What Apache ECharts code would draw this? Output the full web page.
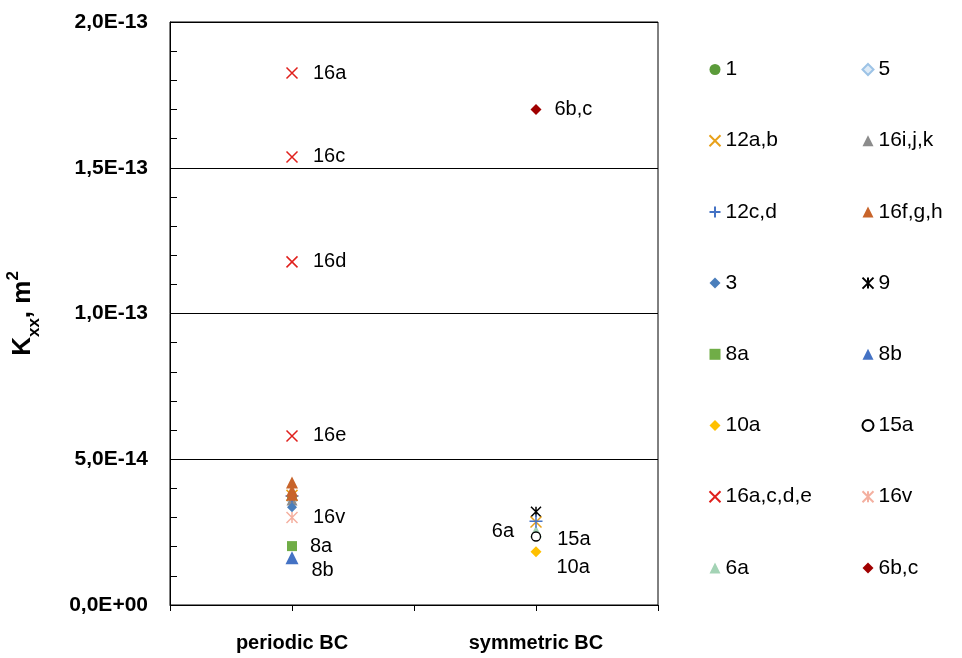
<!DOCTYPE html>
<html><head><meta charset="utf-8">
<script src="https://cdn.jsdelivr.net/npm/echarts@6/dist/echarts.min.js"></script>
<style>html,body{margin:0;padding:0;background:#fff}#c{width:962px;height:658px}</style>
</head><body><div id="c"></div><script>
// ---- data ----
const categories = ['periodic BC', 'symmetric BC'];   // category index 0, 1
const yTicks = [0, 5e-14, 1e-13, 1.5e-13, 2e-13];
// [categoryIndex, value]
const d1      = [[0, 0.365e-13]];
const d5      = [[0, 0.360e-13]];
const d12ab   = [[0, 0.376e-13], [1, 0.285e-13]];
const d16ijk  = [[0, 0.360e-13]];
const d12cd   = [[0, 0.374e-13], [1, 0.287e-13]];
const d16fgh  = [[0, 0.420e-13], [0, 0.392e-13], [0, 0.378e-13]];
const d3      = [[0, 0.335e-13]];
const d9      = [[1, 0.320e-13]];
const d8a     = [[0, 0.202e-13]];
const d8b     = [[0, 0.162e-13]];
const d10a    = [[1, 0.183e-13]];
const d15a    = [[1, 0.235e-13]];
const d16acde = [[0, 1.825e-13], [0, 1.537e-13], [0, 1.177e-13], [0, 0.580e-13]];
const d16v    = [[0, 0.300e-13]];
const d6a     = [[1, 0.252e-13]];
const d6bc    = [[1, 1.700e-13]];
// point label texts
const lab16acde = ['16a', '16c', '16d', '16e'];
const lab16v = ['16v'], lab8a = ['8a'], lab8b = ['8b'], lab6a = ['6a'], lab15a = ['15a'], lab10a = ['10a'], lab6bc = ['6b,c'];

// ---- rendering ----
const FONT = '"Liberation Sans", Arial, sans-serif';
const X = 'path://M0,0L10,10M10,0L0,10';
const PLUS = 'path://M5,0L5,10M0,5L10,5';
const STAR = 'path://M0,0L10,10M10,0L0,10M5,0L5,10';
const toXY = arr => arr.map(p => [1 + 2 * p[0], p[1]]);
const labelStyle = {color: '#000', fontSize: 20, fontFamily: FONT};

function ser(name, data, symbol, size, style, labels, labelOpt) {
  return {
    name, type: 'scatter', symbol, symbolSize: size,
    itemStyle: Object.assign({opacity: 1}, style),
    data: toXY(data).map((v, i) => {
      const o = {value: v};
      if (labels) o.label = Object.assign({show: true, formatter: labels[i]}, labelStyle, labelOpt || {position: 'right', distance: 13});
      return o;
    }),
    emphasis: {disabled: true}, z: 3
  };
}
const fill = c => ({color: c});
const stroke = (c, w) => ({color: 'none', borderColor: c, borderWidth: w || 1.5});

const series = [
  ser('1', d1, 'circle', 10, fill('#5b9b3a')),
  ser('5', d5, 'diamond', 11, {color: '#deebf7', borderColor: '#9dc3e6', borderWidth: 1}),
  ser('16i,j,k', d16ijk, 'triangle', 11, fill('#8c8c8c')),
  ser('3', d3, 'diamond', 10, fill('#4a7ebb')),
  ser('16v', d16v, STAR, 11, stroke('#f4b0a0'), lab16v),
  ser('8a', d8a, 'rect', 10, fill('#70ad47'), lab8a),
  ser('8b', d8b, 'triangle', 13, fill('#4472c4'), lab8b, {position: 'right', distance: 13, offset: [0, 13]}),
  ser('10a', d10a, 'diamond', 11, fill('#ffc000'), lab10a, {position: 'right', distance: 15, offset: [0, 16]}),
  ser('6a', d6a, 'triangle', 12, fill('#a3d3b5'), lab6a, {position: 'left', distance: 16, offset: [0, 0]}),
  ser('15a', d15a, 'circle', 9, {color: '#fff', borderColor: '#000', borderWidth: 1.3}, lab15a, {position: 'right', distance: 16, offset: [0, 3]}),
  ser('9', d9, STAR, 10, stroke('#000')),
  ser('12a,b', d12ab, X, 11, stroke('#e8a11a')),
  ser('12c,d', d12cd, PLUS, 13, stroke('#4472c4')),
  ser('16f,g,h', d16fgh, 'triangle', 12, fill('#c8642a')),
  ser('16a,c,d,e', d16acde, X, 11, stroke('#e0201c'), lab16acde),
  ser('6b,c', d6bc, 'diamond', 11, fill('#a00000'), lab6bc)
];

const leftCol = ['1', '12a,b', '12c,d', '3', '8a', '10a', '16a,c,d,e', '6a'];
const rightCol = ['5', '16i,j,k', '16f,g,h', '9', '8b', '15a', '16v', '6b,c'];
const legendBase = {
  orient: 'vertical', top: 54, itemGap: 50.2, itemWidth: 11, itemHeight: 11, itemTextGap: 8,
  textStyle: {color: '#000', fontSize: 21, fontFamily: FONT, lineHeight: 20},
  selectedMode: false
};

function fmt(v) {
  const s = Number(v).toExponential(1).split('e');
  const m = s[0].replace('.', ',');
  let e = parseInt(s[1], 10);
  const sign = e < 0 ? '-' : '+';
  e = Math.abs(e);
  return m + 'E' + sign + (e < 10 ? '0' + e : '' + e);
}

const chart = echarts.init(document.getElementById('c'));
chart.setOption({
  animation: false,
  backgroundColor: '#fff',
  grid: {left: 170, right: 304, top: 22, bottom: 53, outerBoundsMode: 'none', containLabel: false,
         show: true, borderColor: '#000', borderWidth: 1, backgroundColor: 'transparent'},
  legend: [
    Object.assign({left: 702, data: leftCol}, legendBase),
    Object.assign({left: 855, data: rightCol}, legendBase)
  ],
  xAxis: {
    type: 'value', min: 0, max: 4, interval: 1,
    axisLine: {lineStyle: {color: '#000', width: 1}},
    axisTick: {show: true, length: 6, lineStyle: {color: '#000'}},
    splitLine: {show: false},
    axisLabel: {
      margin: 28, color: '#000', fontSize: 20, fontWeight: 'bold', fontFamily: FONT,
      formatter: v => (Math.round(v) % 2 === 1 ? categories[(Math.round(v) - 1) / 2] : '')
    }
  },
  yAxis: {
    type: 'value', min: yTicks[0], max: yTicks[yTicks.length - 1], interval: yTicks[1] - yTicks[0],
    axisLine: {show: true, lineStyle: {color: '#000', width: 1}},
    axisTick: {show: true, inside: true, length: 7, lineStyle: {color: '#000'}},
    minorTick: {show: true, splitNumber: 5, length: 7, lineStyle: {color: '#000'}},
    splitLine: {show: true, lineStyle: {color: '#000', width: 1}},
    axisLabel: {margin: 22, color: '#000', fontSize: 21, fontWeight: 'bold', fontFamily: FONT, formatter: fmt},
    name: '{k|K}{s|xx}{k|, m}{p|2}',
    nameLocation: 'middle', nameRotate: 90, nameGap: 131,
    nameTextStyle: {
      rich: {
        k: {fontSize: 26, fontWeight: 'bold', fontFamily: FONT, color: '#000', verticalAlign: 'middle', lineHeight: 32},
        s: {fontSize: 17, fontWeight: 'bold', fontFamily: FONT, color: '#000', verticalAlign: 'bottom', lineHeight: 32, padding: [0, 0, -4, 0]},
        p: {fontSize: 17, fontWeight: 'bold', fontFamily: FONT, color: '#000', verticalAlign: 'top', lineHeight: 32, padding: [-2, 0, 0, 0]}
      }
    }
  },
  series
});
</script></body></html>
